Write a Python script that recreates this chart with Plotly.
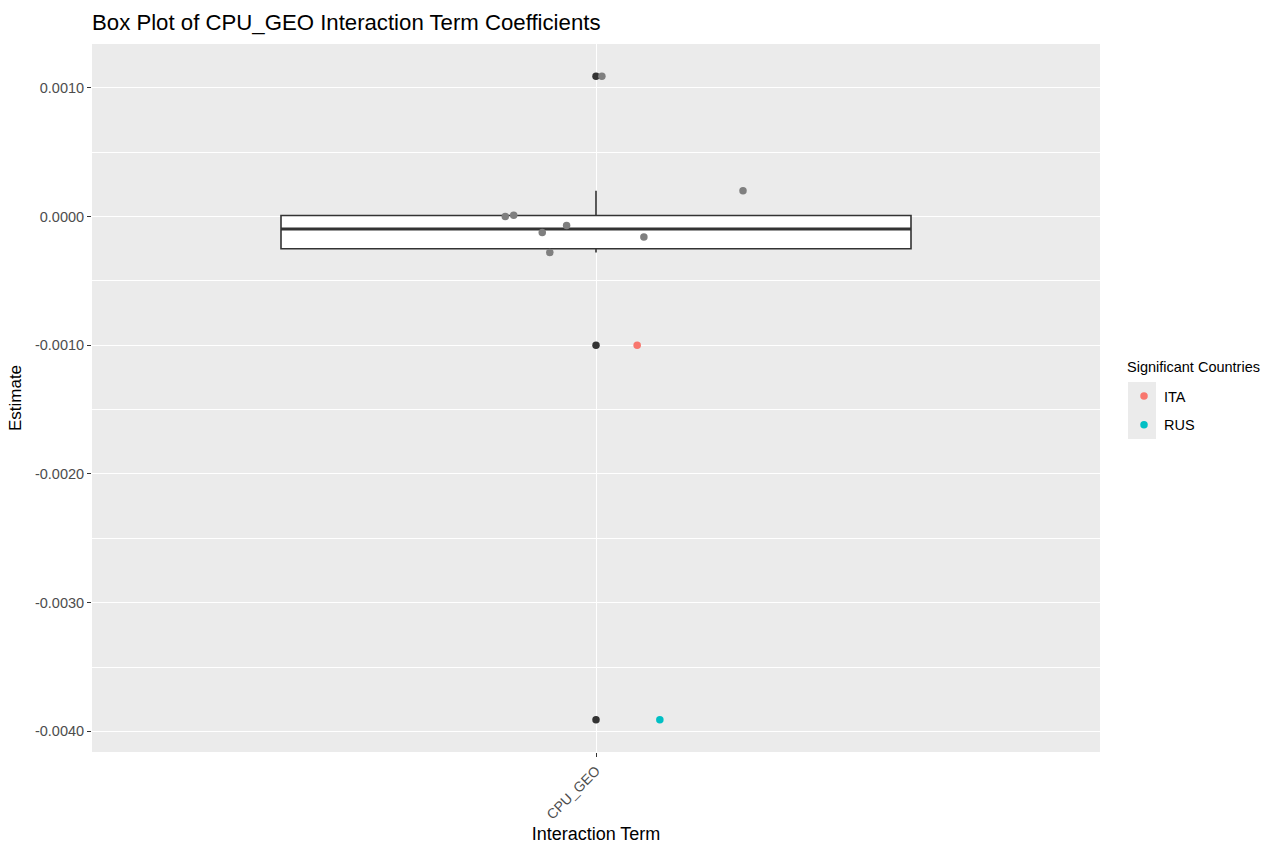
import numpy as np
import plotly.graph_objects as go

# Interaction term coefficients (one estimate per country)
term = "CPU_GEO"
estimates = [0.00109, 0.0, 0.00001, -0.000124, -0.00028, -0.00007, -0.00016, 0.0002, -0.0010, -0.00391]
significant = [None, None, None, None, None, None, None, None, "ITA", "RUS"]
# horizontal jitter applied to each point (in category units)
jitter = [0.007, -0.108, -0.098, -0.064, -0.055, -0.035, 0.057, 0.175, 0.049, 0.076]

country_colors = {"ITA": "#F8766D", "RUS": "#00BFC4"}
na_color = "#7F7F7F"
legend_title = "Significant Countries"

y_tickvals = [-0.004, -0.003, -0.002, -0.001, 0.0, 0.001]
y_minorvals = [-0.0035, -0.0025, -0.0015, -0.0005, 0.0005]

FONT = "Liberation Sans, Arial, Helvetica, sans-serif"

vals = np.array(estimates)
q1, med, q3 = np.percentile(vals, [25, 50, 75])
iqr = q3 - q1
lo_lim, hi_lim = q1 - 1.5 * iqr, q3 + 1.5 * iqr
inside = vals[(vals >= lo_lim) & (vals <= hi_lim)]
lower_fence, upper_fence = inside.min(), inside.max()
outliers = vals[(vals < lo_lim) | (vals > hi_lim)]

x0 = 1.0
box_w = 0.75

fig = go.Figure()

fig.add_trace(go.Box(
    x=[x0], q1=[q1], median=[med], q3=[q3],
    lowerfence=[lower_fence], upperfence=[upper_fence],
    width=box_w, boxpoints=False, whiskerwidth=0,
    fillcolor="white", line=dict(color="#333333", width=1.6),
    showlegend=False, hoverinfo="skip",
))
# thicker median bar
fig.add_trace(go.Scatter(
    x=[x0 - box_w / 2, x0 + box_w / 2], y=[med, med], mode="lines",
    line=dict(color="#333333", width=3.2), showlegend=False, hoverinfo="skip",
))
# outliers of the box plot
fig.add_trace(go.Scatter(
    x=[x0] * len(outliers), y=outliers, mode="markers",
    marker=dict(color="#333333", size=7.5), showlegend=False,
))

# jittered points: grey for non-significant, coloured by country otherwise
ns_x = [x0 + j for j, s in zip(jitter, significant) if s is None]
ns_y = [e for e, s in zip(estimates, significant) if s is None]
fig.add_trace(go.Scatter(
    x=ns_x, y=ns_y, mode="markers",
    marker=dict(color=na_color, size=7.5), showlegend=False,
))
for c, col in country_colors.items():
    xs = [x0 + j for j, s in zip(jitter, significant) if s == c]
    ys = [e for e, s in zip(estimates, significant) if s == c]
    fig.add_trace(go.Scatter(
        x=xs, y=ys, mode="markers", name=c, legendgroup=c,
        marker=dict(color=col, size=7.5),
    ))

span = vals.max() - vals.min()
y_range = [vals.min() - 0.05 * span, vals.max() + 0.05 * span]

W, H = 1284, 846
ml, mr, mt, mb = 92, 184, 44, 94
pw, ph = W - ml - mr, H - mt - mb

def px_x(p):
    return (p - ml) / pw

def px_y(p):
    return (H - mb - p) / ph

fig.update_layout(
    width=W, height=H,
    margin=dict(l=ml, r=mr, t=mt, b=mb, autoexpand=False),
    paper_bgcolor="white", plot_bgcolor="#EBEBEB",
    font=dict(family=FONT, color="black"),
    title=dict(
        text="Box Plot of CPU_GEO Interaction Term Coefficients",
        x=0, xref="paper", xanchor="left",
        y=1 - 22 / H, yref="container", yanchor="middle",
        font=dict(size=22.2, color="black"),
    ),
    xaxis=dict(
        range=[0.4, 1.6], tickmode="array", tickvals=[x0], ticktext=[term],
        tickangle=-45, ticks="outside", ticklen=4, tickcolor="#333333", tickwidth=1.1,
        tickfont=dict(size=14, color="#4D4D4D"),
        showgrid=True, gridcolor="white", gridwidth=1.2, zeroline=False,
        showline=False,
        title=dict(text="Interaction Term", font=dict(size=18, color="black"), standoff=6),
    ),
    yaxis=dict(
        range=y_range, tickmode="array", tickvals=y_tickvals,
        ticktext=[f"{v:.4f}" for v in y_tickvals],
        ticks="outside", ticklen=4, tickcolor="#333333", tickwidth=1.1,
        tickfont=dict(size=14.5, color="#4D4D4D"),
        showgrid=True, gridcolor="white", gridwidth=1.2, zeroline=False,
        showline=False,
        minor=dict(tickmode="array", tickvals=y_minorvals, showgrid=True,
                   gridcolor="white", gridwidth=0.6, ticks=""),
        title=dict(text="Estimate", font=dict(size=17, color="black"), standoff=8),
    ),
    legend=dict(
        font=dict(size=14.5, color="black"),
        x=px_x(1124), xanchor="left", y=px_y(380), yanchor="top",
        bgcolor="rgba(0,0,0,0)", traceorder="grouped", tracegroupgap=7,
        itemwidth=30,
    ),
    annotations=[dict(
        text=legend_title, xref="paper", yref="paper",
        x=px_x(1124.5), y=px_y(367), xanchor="left", yanchor="middle",
        showarrow=False, font=dict(size=14.5, color="black"),
    )],
    shapes=[dict(
        type="rect", xref="paper", yref="paper", layer="below",
        x0=px_x(1128), x1=px_x(1156), y0=px_y(439), y1=px_y(382),
        fillcolor="#EBEBEB", line=dict(width=0),
    )],
)

fig.write_html("out.html")
